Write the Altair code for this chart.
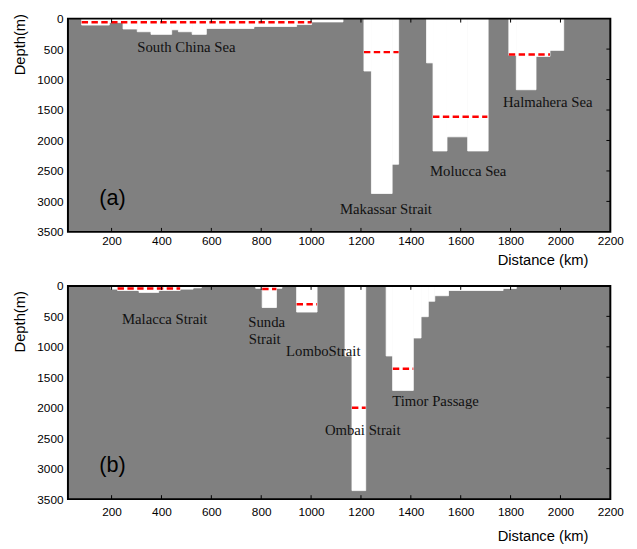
import altair as alt
import pandas as pd

# ---------------- data ----------------
# Panel (a): water-column segments along the section: start km, end km, bottom depth (m)
a_x0 = [80, 191, 246, 303, 358, 441, 468, 523, 580, 771, 942, 1002,
        1212, 1242, 1325, 1463, 1489, 1545, 1628, 1793, 1823, 1902, 1958]
a_x1 = [191, 246, 303, 358, 441, 468, 523, 580, 771, 942, 1002, 1128,
        1242, 1325, 1351, 1489, 1545, 1628, 1710, 1823, 1902, 1958, 2013]
a_depth = [105, 65, 170, 215, 258, 183, 215, 258, 161, 129, 97, 54,
           860, 2870, 2390, 726, 2172, 1940, 2172, 602, 1167, 620, 521]

# Panel (a): sill depths (red dashed)
a_sill_x0 = [80, 1212, 1489, 1793]
a_sill_x1 = [1002, 1351, 1707, 1958]
a_sill_depth = [60, 550, 1610, 590]

# Panel (a): region labels
a_lab_text = ["South China Sea", "Makassar Strait", "Molucca Sea", "Halmahera Sea"]
a_lab_x = [500, 1300, 1630, 1949]
a_lab_depth = [468, 3118, 2500, 1366]

# Panel (b)
b_x0 = [198, 224, 310, 389, 475, 527, 778, 804, 861, 942,
        1136, 1164, 1301, 1327, 1410, 1441, 1470, 1496, 1551, 1770]
b_x1 = [224, 310, 389, 475, 527, 560, 804, 861, 883, 1024,
        1164, 1219, 1327, 1410, 1441, 1470, 1496, 1551, 1770, 1823]
b_depth = [53, 75, 107, 75, 53, 32, 40, 355, 40, 429,
           1150, 3360, 1150, 1715, 855, 505, 252, 161, 75, 43]

b_sill_x0 = [224, 804, 942, 1164, 1328]
b_sill_x1 = [475, 861, 1024, 1219, 1410]
b_sill_depth = [44, 50, 300, 2000, 1360]

b_lab_text = ["Malacca Strait", "Sunda", "Strait", "LomboStrait", "Timor Passage", "Ombai Strait"]
b_lab_x = [413, 822, 814, 1049, 1499, 1207]
b_lab_depth = [537, 600, 880, 1069, 1892, 2360]

panel_tags = ["(a)", "(b)"]
tag_x = 204
tag_depth = 2940

x_ticks = [200, 400, 600, 800, 1000, 1200, 1400, 1600, 1800, 2000, 2200]
y_ticks = [0, 500, 1000, 1500, 2000, 2500, 3000, 3500]
x_domain = [25, 2200]
y_domain = [0, 3500]

W, H = 552, 217
GRAY = "#808080"
SANS = "Liberation Sans"
SERIF = "Liberation Serif"


def panel(x0, x1, depth, sx0, sx1, sdepth, ltext, lx, ldepth, tag,
          y_title_y, x_label_pad, x_title_y):
    xs = alt.Scale(domain=x_domain, nice=False, zero=False)
    ys = alt.Scale(domain=y_domain, reverse=True, nice=False, zero=False)

    water = pd.DataFrame({"x0": x0, "x1": x1, "depth": depth, "top": [0] * len(x0)})
    sills = pd.DataFrame({"x0": sx0, "x1": sx1, "depth": sdepth})
    labels = pd.DataFrame({"x": lx, "depth": ldepth, "text": ltext})
    tagdf = pd.DataFrame({"x": [tag_x], "depth": [tag_depth], "text": [tag]})
    xt = pd.DataFrame({"x": x_ticks[:-1]})
    yt = pd.DataFrame({"y": y_ticks[1:-1]})
    frame = pd.DataFrame({"a": [x_domain[0]], "b": [x_domain[1]],
                          "c": [y_domain[0]], "d": [y_domain[1]]})

    x_axis = alt.Axis(values=x_ticks, ticks=False, domain=False, grid=False,
                      format="d", labelOverlap=False,
                      labelFont=SANS, labelFontSize=12, labelColor="black",
                      labelPadding=x_label_pad, labelFlush=False,
                      title="Distance (km)", titleFont=SANS, titleFontSize=15,
                      titleFontWeight="normal", titleColor="black",
                      titleX=483, titleY=x_title_y, titleAlign="center",
                      titleBaseline="middle")
    y_axis = alt.Axis(values=y_ticks, ticks=False, domain=False, grid=False,
                      format="d", labelOverlap=False, tickCount=8,
                      labelFont=SANS, labelFontSize=12, labelColor="black",
                      labelPadding=5,
                      title="Depth(m)", titleFont=SANS, titleFontSize=15,
                      titleFontWeight="normal", titleColor="black",
                      titleAngle=270, titleX=-49, titleY=y_title_y,
                      titleAlign="center", titleBaseline="middle")

    X = lambda f: alt.X(f, scale=xs, axis=x_axis)
    Y = lambda f: alt.Y(f, scale=ys, axis=y_axis)

    water_l = alt.Chart(water).mark_rect(color="white", stroke="white",
                                         strokeWidth=0.8).encode(
        x=X("x0:Q"), x2="x1:Q", y=Y("top:Q"), y2="depth:Q")
    sill_l = alt.Chart(sills).mark_rule(color="#ff0000", strokeWidth=2.5,
                                        strokeDash=[6.5, 3.5]).encode(
        x=X("x0:Q"), x2="x1:Q", y=Y("depth:Q"))
    lab_l = alt.Chart(labels).mark_text(font=SERIF, fontSize=15, color="#111111",
                                        align="center", baseline="middle").encode(
        x=X("x:Q"), y=Y("depth:Q"), text="text:N")
    tag_l = alt.Chart(tagdf).mark_text(font=SANS, fontSize=22, color="black",
                                       align="center", baseline="middle").encode(
        x=X("x:Q"), y=Y("depth:Q"), text="text:N")
    top_ticks = alt.Chart(xt).mark_rule(color="black", strokeWidth=1).encode(
        x=X("x:Q"), y=alt.value(0), y2=alt.value(4))
    bot_ticks = alt.Chart(xt).mark_rule(color="black", strokeWidth=1).encode(
        x=X("x:Q"), y=alt.value(H), y2=alt.value(H - 4))
    right_ticks = alt.Chart(yt).mark_rule(color="black", strokeWidth=1).encode(
        y=Y("y:Q"), x=alt.value(W - 4), x2=alt.value(W))
    frame_l = alt.Chart(frame).mark_rect(filled=False, stroke="black",
                                         strokeWidth=2).encode(
        x=X("a:Q"), x2="b:Q", y=Y("c:Q"), y2="d:Q")

    return alt.layer(water_l, sill_l, lab_l, tag_l, top_ticks, bot_ticks,
                     right_ticks, frame_l).properties(width=W, height=H)


pa = panel(a_x0, a_x1, a_depth, a_sill_x0, a_sill_x1, a_sill_depth,
           a_lab_text, a_lab_x, a_lab_depth, panel_tags[0], 26, 4, 28)
pb = panel(b_x0, b_x1, b_depth, b_sill_x0, b_sill_x1, b_sill_depth,
           b_lab_text, b_lab_x, b_lab_depth, panel_tags[1], 36, 8, 37)

chart = alt.vconcat(pa, pb, spacing=55, bounds="flush").properties(
    padding={"left": 5, "top": 0, "right": 5, "bottom": 5}
).configure_view(fill=GRAY, strokeWidth=0)

chart.save("out.html", embed_options={"renderer": "svg", "actions": False})
